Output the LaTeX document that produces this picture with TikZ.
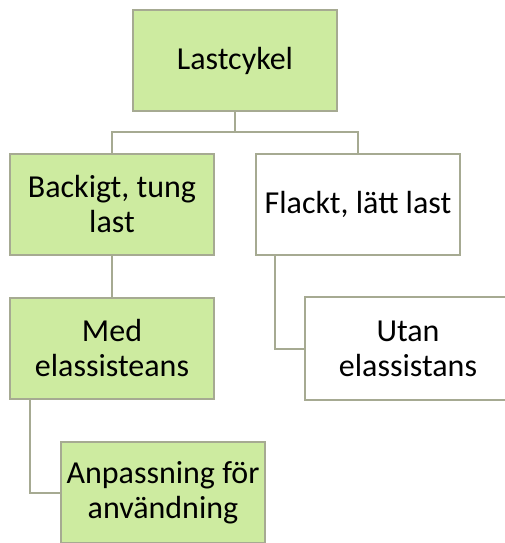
\documentclass[tikz,border=0pt]{standalone}
\usepackage{fontspec}
\setmainfont{Carlito}
\usetikzlibrary{calc}
\definecolor{boxgreen}{RGB}{205,235,160}
\definecolor{boxline}{RGB}{166,170,146}
\begin{document}
\begin{tikzpicture}[x=1pt,y=-1pt,
  box/.style={draw=boxline,line width=2pt,rectangle,minimum width=204pt,minimum height=101pt,
    inner sep=0pt,align=center,font=\fontsize{32}{35}\selectfont,text=black},
  gbox/.style={box,fill=boxgreen},
  wbox/.style={box,fill=white},
  conn/.style={draw=boxline,line width=2pt}]
\useasboundingbox (0,0) rectangle (505,543);
\clip (0,0) rectangle (505,543);
\draw[conn] (235,60) -- (235,132) coordinate (j);
\node[gbox] (L) at (235,60.5) {Lastcykel};
\node[gbox] (B) at (112,204.5) {Backigt, tung\\last};
\node[wbox] (F) at (358,204.5) {Flackt, lätt last};
\node[gbox] (M) at (112,348.5) {Med\\elassisteans};
\node[wbox,draw=none] (U) at (408,348.5) {Utan\\elassistans};
\draw[conn] ($(U.north east)+(20,0)$) -- (U.north west) -- (U.south west) -- ($(U.south east)+(20,0)$);
\node[gbox] (A) at (163,492.5) {Anpassning för\\användning};
\draw[conn] (L.south) -- (j) -| (B.north);
\draw[conn] (j) -| (F.north);
\draw[conn] (B.south) -- (M.north);
\draw[conn] ($(M.south west)+(21,0)$) |- (A.west);
\draw[conn] ($(F.south west)+(20,0)$) |- (U.west);
\end{tikzpicture}
\end{document}
